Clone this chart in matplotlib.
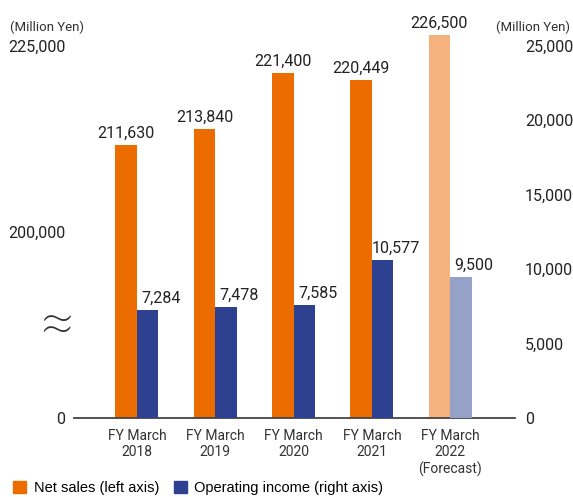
import numpy as np
import matplotlib.pyplot as plt
from matplotlib.patches import Patch

# Net sales (left axis) and operating income (right axis), million yen
years = ['FY March\n2018', 'FY March\n2019', 'FY March\n2020', 'FY March\n2021', 'FY March\n2022\n(Forecast)']
net_sales = [211630, 213840, 221400, 220449, 226500]
op_income = [7284, 7478, 7585, 10577, 9500]
left_ticks = [175000, 200000, 225000]
left_labels = ['0', '200,000', '225,000']
right_ticks = [0, 5000, 10000, 15000, 20000, 25000]

orange = ['#EC6C00'] * 4 + ['#F5B27E']
blue = ['#2D4190'] * 4 + ['#96A1C8']

plt.rcParams['font.family'] = ['Roboto', 'DejaVu Sans']

fig = plt.figure(figsize=(5.73, 4.97), dpi=100)
ax = fig.add_axes([0.129, 0.159, 0.77, 0.785])
ax2 = ax.twinx()

x = np.arange(len(years))
w = 0.275

# left axis is broken: baseline stands for 0, scale starts at 175,000
ax.bar(x - w / 2, np.array(net_sales) - 175000, bottom=175000, width=w, color=orange, zorder=2)
ax2.bar(x + w / 2, op_income, width=w, color=blue, zorder=2)

ax.set_xlim(-0.805, 4.83)
ax.set_ylim(175000, 175000 + 2 * 26200)
ax2.set_ylim(0, 26200)

lab_font = dict(fontsize=11.5, color='#222222')
for i in range(len(years)):
    ax.annotate(f'{net_sales[i]:,}', (x[i] - w / 2, net_sales[i]), xytext=(0, 3),
                textcoords='offset points', ha='center', va='bottom', **lab_font)
    ax2.annotate(f'{op_income[i]:,}', (x[i] + w / 2 + 0.17, op_income[i]), xytext=(0, 3),
                 textcoords='offset points', ha='center', va='bottom', **lab_font)

for a in (ax, ax2):
    for s in ['top', 'left', 'right']:
        a.spines[s].set_visible(False)
ax.spines['bottom'].set_color('#444444')
ax.spines['bottom'].set_linewidth(1.3)
ax2.spines['bottom'].set_visible(False)

ax.set_yticks(left_ticks)
ax.set_yticklabels(left_labels)
ax2.set_yticks(right_ticks)
ax2.set_yticklabels([f'{v:,}' for v in right_ticks])
ax.tick_params(axis='y', length=0, pad=6, labelsize=11.5, labelcolor='#222222')
ax2.tick_params(axis='y', length=0, pad=7, labelsize=11.5, labelcolor='#222222')

ax.set_xticks(x)
ax.set_xticklabels(years, fontsize=10, linespacing=1.2, color='#333333')
ax.tick_params(axis='x', length=0, pad=8)

# axis break mark
ax.text(-0.039, 187000, '≈', transform=ax.get_yaxis_transform(), ha='center', va='center',
        fontsize=42, color='#333333', family=['Roboto', 'DejaVu Sans'], fontweight='light')

fig.text(0.017, 0.945, '(Million Yen)', fontsize=9.5, color='#333333', va='center')
fig.text(0.995, 0.945, '(Million Yen)', fontsize=9.5, color='#333333', va='center', ha='right')

handles = [Patch(color='#EC6C00', label='Net sales (left axis)'),
           Patch(color='#2D4190', label='Operating income (right axis)')]
fig.legend(handles=handles, loc='lower left', bbox_to_anchor=(0.0, -0.022), ncol=2, frameon=False,
           handlelength=0.9, handleheight=0.9, handletextpad=0.5, columnspacing=1.0,
           prop={'family': 'Liberation Sans', 'size': 10.5})

fig.savefig('out.png', dpi=100)
